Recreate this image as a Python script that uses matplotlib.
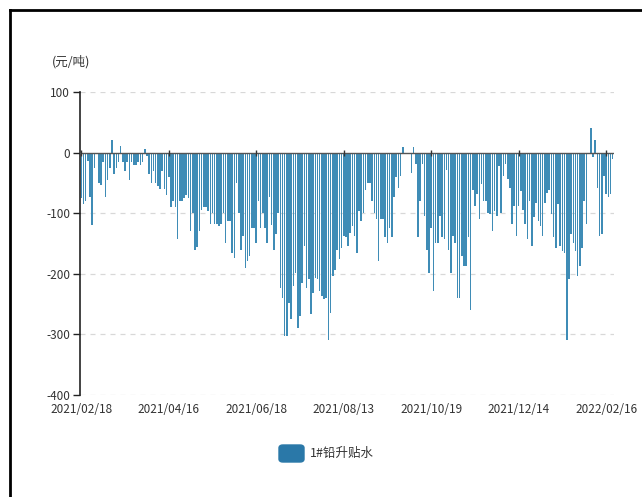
import matplotlib
matplotlib.use("Agg")
import matplotlib.pyplot as plt
from matplotlib.lines import Line2D
from matplotlib.patches import FancyBboxPatch

plt.rcParams['font.family'] = ['Noto Sans CJK SC', 'DejaVu Sans']

# ---- data (元/吨), one bar per trading day 2021/02/18 .. 2022/02 ----
seg1 = [-75, -84, -80, -14, -74, -119, -25, -3, -50, -53,
        -15, -73, -45, -25, 21, -35, -25, -15, 11, -15,
        -30, -15, -45, -15, -20, -20, -15, -20, -15, 6,
        -5, -35, -50, -30, -50, -55, -60, -30, -60, -70,
        -40, -90, -80, -90, -143, -80, -80, -75, -70, -75,
        -130, -100, -160, -155, -130]
seg2 = [-94, -90, -90, -96, -118, -100, -118, -118, -121, -118,
        -100, -149, -113, -113, -165, -174, -50, -99, -160, -138,
        -190, -179, -171, -124, -124, -149, -80, -124, -99, -124,
        -149, -74, -120, -160, -135, -99, -223, -240, -303, -303,
        -248, -275, -220, -198, -289, -270, -215, -154, -223, -209]
seg3 = [-267, -231, -207, -209, -229, -237, -242, -240, -309, -264,
        -204, -193, -160, -176, -157, -138, -140, -154, -132, -121,
        -138, -165, -96, -113, -99, -61, -50, -50, -80, -99,
        -110, -179, -110, -110, -140, -149, -124, -140, -74, -41,
        -58, -39, 10, -2, -2, -2, -33, 10, -19, -140,
        -80, -19, -105, -160, -198]
seg4 = [-124, -229, -149, -149, -105, -140, -143, -28, -160, -198,
        -138, -149, -240, -240, -171, -187, -187, -140, -259, -61,
        -88, -69, -110, -52, -80, -80, -99, -102, -129, -96,
        -105, -22, -99, -39, -19, -44]
seg5 = [-58, -118, -88, -138, -88, -63, -94, -118, -143, -80,
        -154, -107, -83, -113, -121, -138, -83, -66, -61, -102,
        -140, -157, -85, -154, -163, -165, -309, -209, -135, -149,
        -163, -204, -187, -157, -80, -118, -2, 41, -8, 21,
        -58, -138, -135, -39, -69, -74, -69, -11]
values = seg1 + seg2 + seg3 + seg4 + seg5

tick_labels = ['2021/02/18', '2021/04/16', '2021/06/18', '2021/08/13',
               '2021/10/19', '2021/12/14', '2022/02/16']
tick_step = 40
y_ticks = [100, 0, -100, -200, -300, -400]
series_name = '1#铅升贴水'
unit = '(元/吨)'

bar_color = '#3f8cb6'
legend_color = '#2a78a8'
text_color = '#333333'

fig = plt.figure(figsize=(6.42, 4.97), dpi=100)
ax = fig.add_axes([80/642, 1-395/497, (614-80)/642, (395-92)/497])

x = list(range(len(values)))
ax.bar(x, values, width=0.72, color=bar_color, zorder=2)

ax.set_xlim(-0.6, len(values) - 0.4)
ax.set_ylim(-400, 100)

# grid
for yv in y_ticks:
    if yv != 0:
        ax.axhline(yv, color='#d8d8d8', lw=0.9, ls=(0, (4, 4)), zorder=1)
ax.axhline(0, color='#555555', lw=1.0, zorder=3)

# x ticks (tiny marks on zero line)
tick_pos = [i * tick_step for i in range(len(tick_labels))]
ax.plot(tick_pos, [0]*len(tick_pos), ls='none', marker='|', ms=4,
        color='#333333', mew=1, zorder=4)
ax.set_xticks(tick_pos)
ax.set_xticklabels(tick_labels, fontsize=8.5, color=text_color)
ax.tick_params(axis='x', length=0, pad=6)

ax.set_yticks(y_ticks)
ax.set_yticklabels([str(v) for v in y_ticks], fontsize=8.5, color=text_color)
ax.tick_params(axis='y', length=5, width=1, color='#222222', pad=2, direction='out')

for s in ['top', 'right', 'bottom']:
    ax.spines[s].set_visible(False)
ax.spines['left'].set_color('#222222')
ax.spines['left'].set_linewidth(1.2)

fig.text(52/642, 1-62/497, unit, fontsize=9, color=text_color, va='center', ha='left')

# legend
fig.patches.append(FancyBboxPatch((279/642, 1-462/497), 25/642, 17/497,
                                  boxstyle='round,pad=0,rounding_size=0.006',
                                  transform=fig.transFigure, color=legend_color))
fig.text(310/642, 1-453/497, series_name, fontsize=9, color=text_color, va='center', ha='left')

# frame lines
fig.add_artist(Line2D([9.5/642, 9.5/642], [0, 1-10/497], color='black', lw=2))
fig.add_artist(Line2D([9.5/642, 1], [1-10/497, 1-10/497], color='black', lw=2))

fig.savefig('out.png', dpi=100)
